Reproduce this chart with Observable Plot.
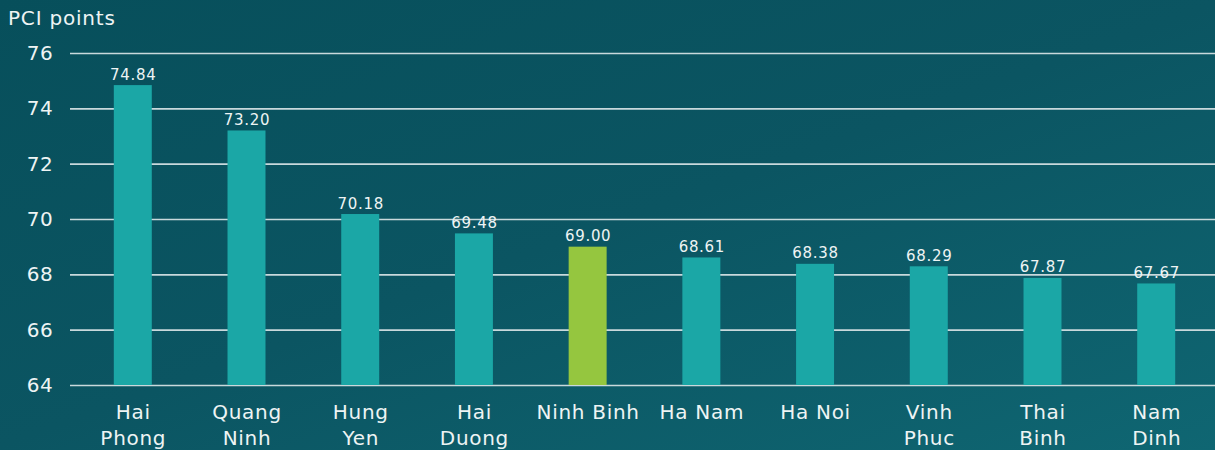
<!DOCTYPE html>
<html>
<head>
<meta charset="utf-8">
<script src="https://cdn.jsdelivr.net/npm/d3@7"></script>
<script src="https://cdn.jsdelivr.net/npm/@observablehq/plot@0.6"></script>
<style>
  html, body { margin: 0; padding: 0; }
  body {
    width: 1215px; height: 450px; overflow: hidden; position: relative;
    background: linear-gradient(160deg, #074f5b 0%, #0b5562 50%, #0f6672 100%);
    font-family: "DejaVu Sans", sans-serif;
  }
  #title {
    position: absolute; left: 8px; top: 6px; color: #eef4f4;
    font-size: 20px; font-family: "DejaVu Sans", sans-serif; letter-spacing: 0.8px;
  }
  #chart { position: absolute; left: 0; top: 0; }
</style>
</head>
<body>
<div id="title">PCI points</div>
<div id="chart"></div>
<script>
const provinces = ["Hai Phong", "Quang Ninh", "Hung Yen", "Hai Duong", "Ninh Binh", "Ha Nam", "Ha Noi", "Vinh Phuc", "Thai Binh", "Nam Dinh"];
const tickLabels = ["Hai\nPhong", "Quang\nNinh", "Hung\nYen", "Hai\nDuong", "Ninh Binh", "Ha Nam", "Ha Noi", "Vinh\nPhuc", "Thai\nBinh", "Nam\nDinh"];
const pciScores = [74.84, 73.20, 70.18, 69.48, 69.00, 68.61, 68.38, 68.29, 67.87, 67.67];
const highlight = "Ninh Binh";
const yTicks = [64, 66, 68, 70, 72, 74, 76];

const data = provinces.map((p, i) => ({province: p, value: pciScores[i]}));
const labelOf = new Map(provinces.map((p, i) => [p, tickLabels[i]]));

const chart = Plot.plot({
  width: 1215,
  height: 450,
  marginTop: 53,
  marginBottom: 65,
  marginLeft: 70,
  marginRight: 0,
  style: {background: "transparent", color: "#eef4f4", fontFamily: "'DejaVu Sans', sans-serif", letterSpacing: "0.7px"},
  x: {domain: provinces, paddingInner: 0.666, paddingOuter: 0.35, range: [74, 1215], round: false, label: null},
  y: {domain: [64, 76], label: null},
  marks: [
    Plot.ruleY(yTicks, {stroke: "#c9d9dc", strokeWidth: 1.6}),
    Plot.barY(data, {
      x: "province", y1: 64, y2: "value",
      fill: d => d.province === highlight ? "#95c63f" : "#1ba7a6"
    }),
    Plot.text(data, {
      x: "province", y: "value", text: d => d.value.toFixed(2),
      lineAnchor: "bottom", dy: -6, fontSize: 15, fill: "#eef4f4"
    }),
    Plot.axisY({ticks: yTicks, tickSize: 0, tickPadding: 17, fontSize: 20, fill: "#eef4f4", label: null}),
    Plot.axisX({
      tickSize: 0, tickPadding: 15, fontSize: 20, fill: "#eef4f4", label: null,
      tickFormat: d => labelOf.get(d), lineHeight: 1.3
    })
  ]
});
document.getElementById("chart").appendChild(chart);
</script>
</body>
</html>
